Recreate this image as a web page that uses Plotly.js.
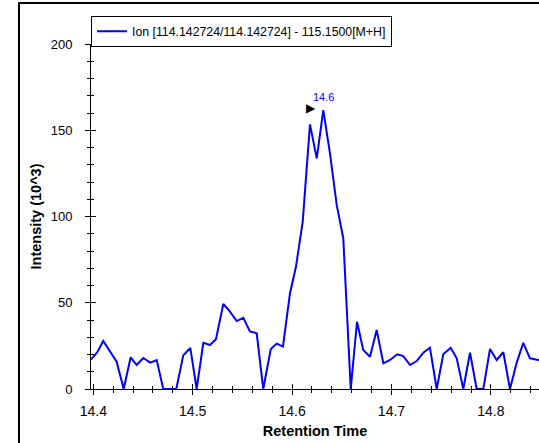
<!DOCTYPE html>
<html>
<head>
<meta charset="utf-8">
<script src="https://cdn.plot.ly/plotly-3.0.1.min.js"></script>
<style>
  html, body { margin: 0; padding: 0; background: #ffffff; }
  #chart { width: 539px; height: 443px; }
</style>
</head>
<body>
<div id="chart"></div>
<script>
// Extracted ion chromatogram: retention time (min) vs intensity (x10^3)
const seriesName = 'Ion [114.142724/114.142724] - 115.1500[M+H]';

const retentionTime = [
  14.3975, 14.4040, 14.4100, 14.4168, 14.4235, 14.4306, 14.4376, 14.4437,
  14.4503, 14.4573, 14.4638, 14.4704, 14.4770, 14.4835, 14.4905, 14.4976,
  14.5040, 14.5107, 14.5174, 14.5234, 14.5308, 14.5375, 14.5443, 14.5509,
  14.5576, 14.5644, 14.5710, 14.5785, 14.5845, 14.5908, 14.5979, 14.6039,
  14.6107, 14.6180, 14.6248, 14.6314, 14.6381, 14.6449, 14.6515, 14.6590,
  14.6653, 14.6716, 14.6784, 14.6851, 14.6918, 14.6985, 14.7058, 14.7119,
  14.7186, 14.7254, 14.7320, 14.7387, 14.7455, 14.7521, 14.7595, 14.7656,
  14.7722, 14.7790, 14.7857, 14.7924, 14.7991, 14.8058, 14.8125, 14.8192,
  14.8260, 14.8326, 14.8393, 14.8477, 14.8550
];

const intensity = [
  17.0, 21.3, 27.8, 21.6, 15.8, 0.0, 18.4, 13.9,
  18.0, 15.3, 16.8, 0.0, 0.0, 0.0, 19.5, 23.8,
  0.0, 26.8, 25.5, 28.8, 49.3, 44.8, 39.4, 41.2,
  33.4, 32.3, 0.0, 23.0, 26.3, 24.6, 55.5, 70.9,
  97.0, 153.4, 133.7, 161.7, 136.6, 106.7, 87.4, 0.0,
  39.0, 22.6, 18.7, 34.2, 14.9, 16.8, 20.1, 19.1,
  13.9, 16.2, 21.0, 23.9, 0.0, 20.1, 23.9, 17.8,
  0.0, 21.0, 0.0, 0.0, 23.2, 16.8, 21.3, 0.0,
  15.3, 26.8, 17.8, 16.8, 17.0
];

const xRange = [14.3977, 14.8484];
const yRange = [0, 200];
const xTickLabels = ['14.4', '14.5', '14.6', '14.7', '14.8'];
const yTickLabels = ['0', '50', '100', '150', '200'];

// apex of the main peak, labelled with its retention time
let apex = 0;
intensity.forEach((v, i) => { if (v > intensity[apex]) apex = i; });
const apexT = retentionTime[apex];
const apexV = intensity[apex];

const FONT = 'Liberation Sans, Arial, sans-serif';

const traces = [
  {
    x: retentionTime,
    y: intensity,
    type: 'scatter',
    mode: 'lines',
    name: seriesName,
    line: { color: '#0000ff', width: 2 },
    hoverinfo: 'skip'
  },
  // companion (empty) trace that carries the inner half of the crossing ticks
  { x: [], y: [], xaxis: 'x2', yaxis: 'y2', type: 'scatter', mode: 'lines',
    showlegend: false, hoverinfo: 'skip' }
];

const xTickVals = xTickLabels.map(Number);
const yTickVals = yTickLabels.map(Number);

const layout = {
  width: 539,
  height: 443,
  margin: { l: 91, r: 0, t: 44, b: 54 },
  paper_bgcolor: '#ffffff',
  plot_bgcolor: '#ffffff',
  font: { family: FONT, color: '#000000', size: 12 },
  showlegend: true,
  legend: {
    x: 0, xanchor: 'left',
    y: 1.082, yanchor: 'top',
    bgcolor: '#ffffff',
    bordercolor: '#000000',
    borderwidth: 1,
    font: { family: FONT, size: 12.3, color: '#000000' }
  },
  xaxis: {
    range: xRange,
    tickvals: xTickVals,
    ticktext: xTickLabels,
    ticks: 'outside', ticklen: 5, tickwidth: 1, tickcolor: '#000000',
    ticklabelstandoff: 4,
    minor: { dtick: 0.02, tick0: 14.4, ticks: 'outside', ticklen: 3, tickwidth: 1,
             tickcolor: '#000000', showgrid: false },
    showline: true, linecolor: '#000000', linewidth: 1,
    showgrid: false, zeroline: false,
    tickfont: { family: FONT, size: 14, color: '#000000' },
    title: { text: 'Retention Time', standoff: 8,
             font: { family: FONT, size: 14.5, color: '#000000', weight: 'bold' } }
  },
  yaxis: {
    range: yRange,
    tickvals: yTickVals,
    ticktext: yTickLabels,
    ticks: 'outside', ticklen: 5, tickwidth: 1, tickcolor: '#000000',
    ticklabelstandoff: 10,
    minor: { dtick: 10, tick0: 0, ticks: 'outside', ticklen: 3, tickwidth: 1,
             tickcolor: '#000000', showgrid: false },
    showline: true, linecolor: '#000000', linewidth: 1,
    showgrid: false, zeroline: false,
    tickfont: { family: FONT, size: 13, color: '#000000' },
    title: { text: 'Intensity (10^3)', standoff: 5,
             font: { family: FONT, size: 14.5, color: '#000000', weight: 'bold' } }
  },
  xaxis2: {
    overlaying: 'x', anchor: 'y2', range: xRange,
    tickvals: xTickVals, showticklabels: false,
    ticks: 'inside', ticklen: 5, tickwidth: 1, tickcolor: '#000000',
    minor: { dtick: 0.02, tick0: 14.4, ticks: 'inside', ticklen: 3, tickwidth: 1,
             tickcolor: '#000000', showgrid: false },
    showline: false, showgrid: false, zeroline: false
  },
  yaxis2: {
    overlaying: 'y', anchor: 'x2', side: 'left', range: yRange,
    tickvals: yTickVals, showticklabels: false,
    ticks: 'inside', ticklen: 5, tickwidth: 1, tickcolor: '#000000',
    minor: { dtick: 10, tick0: 0, ticks: 'inside', ticklen: 3, tickwidth: 1,
             tickcolor: '#000000', showgrid: false },
    showline: false, showgrid: false, zeroline: false
  },
  annotations: [
    {
      x: apexT, y: apexV, xref: 'x', yref: 'y',
      text: apexT.toFixed(1), showarrow: false,
      yshift: 13,
      font: { family: FONT, size: 11, color: '#0000ff' }
    },
    {
      x: apexT, y: apexV, xref: 'x', yref: 'y',
      text: '\u25B6', showarrow: false,
      xshift: -12, yshift: 2,
      font: { family: 'DejaVu Sans', size: 12, color: '#000000' }
    }
  ],
  shapes: [
    // surrounding window frame
    { type: 'rect', xref: 'paper', yref: 'paper',
      x0: -0.1607, x1: 1.1, y0: -0.3, y1: 1.119,
      line: { color: '#000000', width: 2 }, fillcolor: 'rgba(0,0,0,0)', layer: 'below' }
  ]
};

Plotly.newPlot('chart', traces, layout, { displayModeBar: false, staticPlot: true });
</script>
</body>
</html>
